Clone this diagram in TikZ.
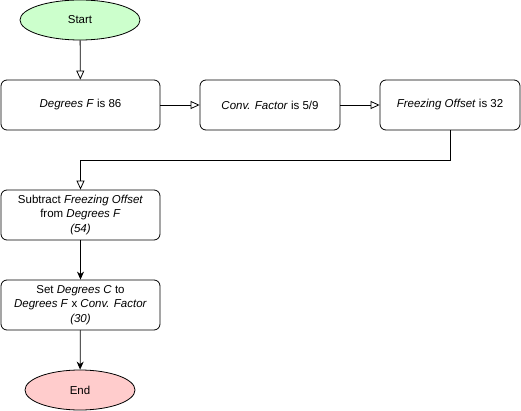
\documentclass[tikz,border=0pt]{standalone}
\usepackage{fontspec}
\setmainfont{Liberation Sans}
\usepackage{tikz}
\usetikzlibrary{shapes.geometric,arrows.meta,positioning}
\definecolor{StartGreen}{HTML}{CCFFCC}
\definecolor{EndRed}{HTML}{FFCCCC}
\tikzset{
    stepbox/.style={draw, rounded corners=6pt, line width=0.8pt, inner sep=2pt,
        minimum height=50pt, align=center, font=\fontsize{11.5}{14.5}\selectfont},
    terminal/.style={draw, ellipse, line width=0.8pt, inner sep=0pt, minimum height=40pt,
        font=\fontsize{11.5}{14}\selectfont},
    openflow/.style={-{Triangle[open,length=9pt,width=8pt]}, line width=0.8pt},
    solidflow/.style={-{Stealth[length=8pt,width=7pt,inset=2.5pt]}, line width=0.8pt}
}

\begin{document}
\begin{tikzpicture}[x=1pt,y=-1pt]
        \useasboundingbox (0,0) rectangle (521,411);

        % Draw the start and end ellipses
        \node[terminal, fill=StartGreen, minimum width=120pt] (start) at (80,20) {Start};
        \node[terminal, fill=EndRed, minimum width=110pt] (end) at (80,390) {End};

        % Draw the top row of steps
        \node[stepbox, minimum width=159pt] (degf) at (80.5,105) {\textit{Degrees F} is 86};
        \node[stepbox, minimum width=140pt] (conv) at (270,105) {\textit{Conv. Factor} is 5/9};
        \node[stepbox, minimum width=140pt] (off) at (450,105) {\textit{Freezing Offset} is 32};

        % Draw the calculation steps
        \node[stepbox, minimum width=159pt] (sub) at (80.5,215)
            {Subtract \textit{Freezing Offset}\\ from \textit{Degrees F}\\ \textit{(54)}};
        \node[stepbox, minimum width=159pt] (set) at (80.5,305)
            {Set \textit{Degrees C} to\\ \textit{Degrees F} x \textit{Conv. Factor}\\ \textit{(30)}};

        % Draw the open arrows
        \draw[openflow] (start) -- (degf);
        \draw[openflow] (degf) -- (conv);
        \draw[openflow] (conv) -- (off);
        \draw[openflow] (off.south) -- ++(0,30) -| (sub.north);

        % Draw the filled arrows
        \draw[solidflow] (sub) -- (set);
        \draw[solidflow] (set) -- (end);
    \end{tikzpicture}
\end{document}
